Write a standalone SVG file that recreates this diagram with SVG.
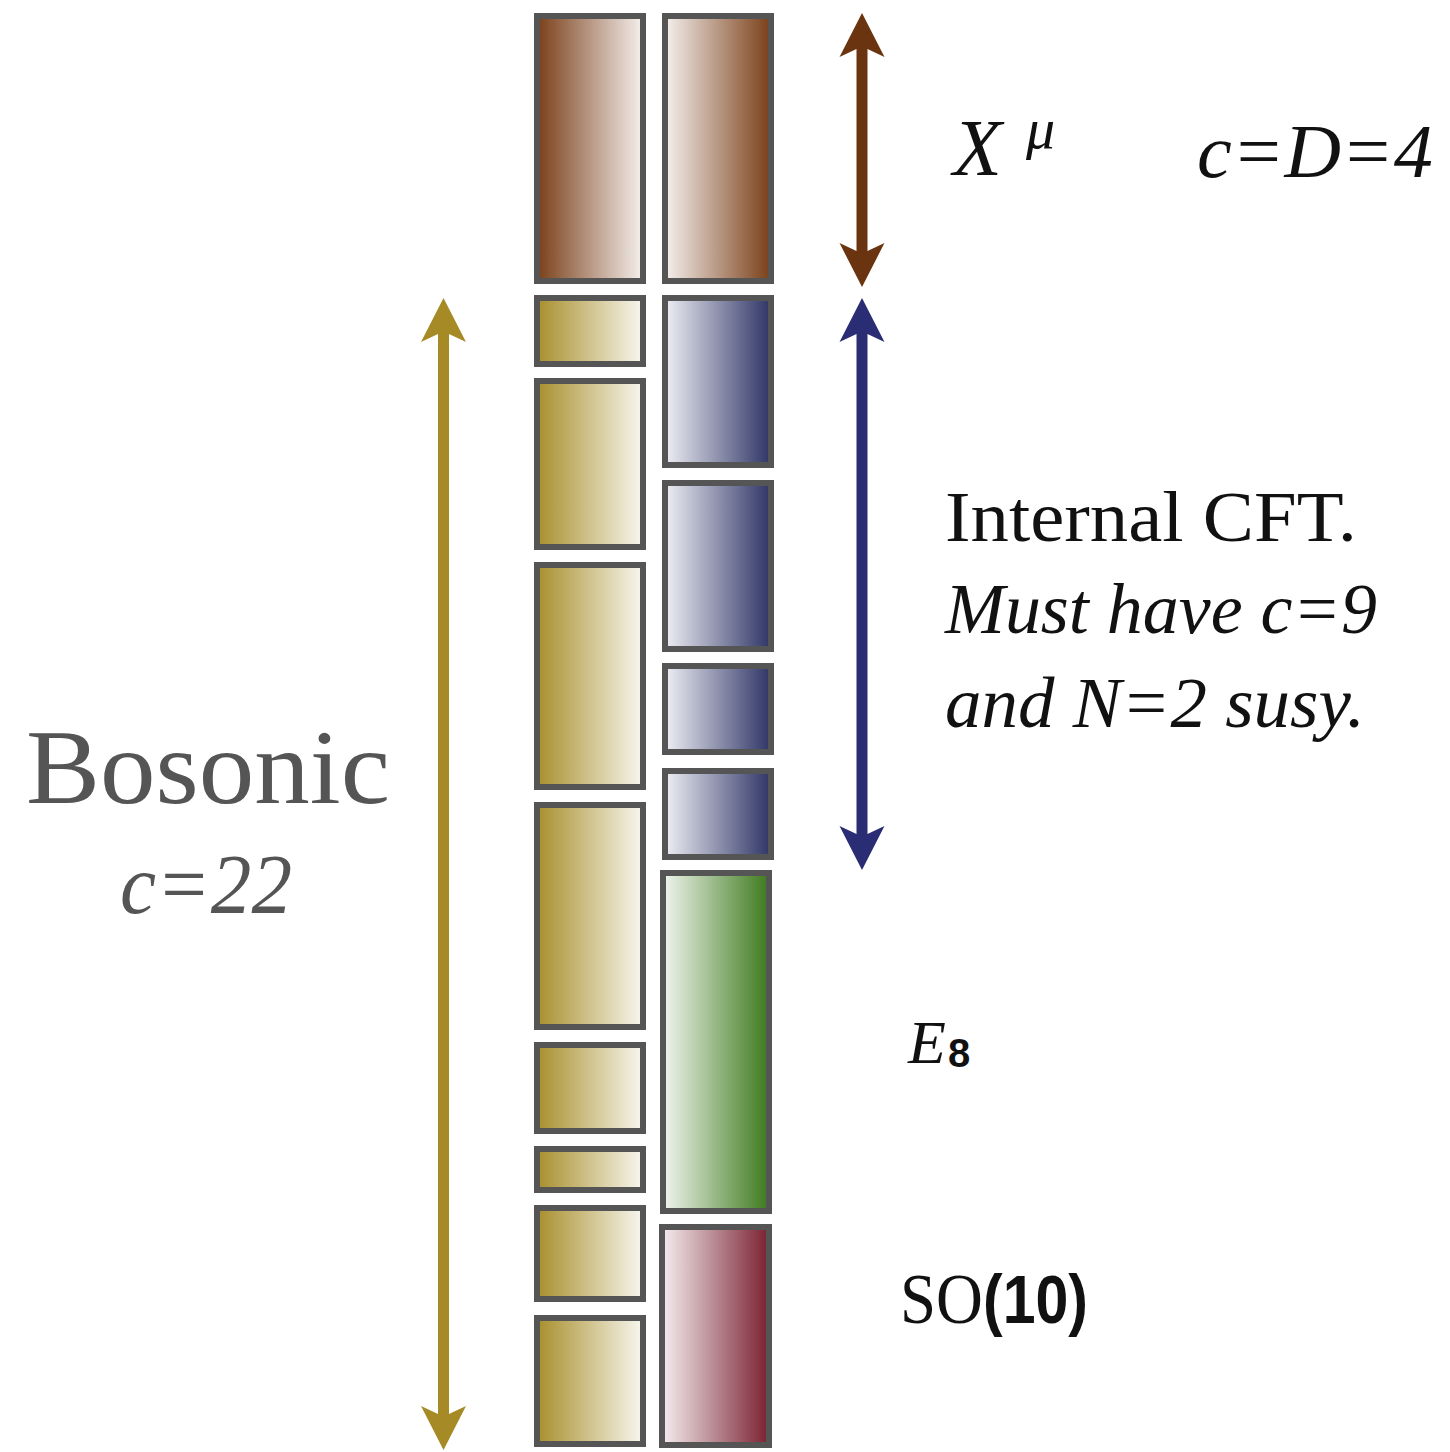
<svg xmlns="http://www.w3.org/2000/svg" width="1450" height="1452" viewBox="0 0 1450 1452">
<defs>
<linearGradient id="gBrownL" x1="0" y1="0" x2="1" y2="0"><stop offset="0" stop-color="#7a3f18"/><stop offset="1" stop-color="#f5f0ee"/></linearGradient>
<linearGradient id="gBrownR" x1="0" y1="0" x2="1" y2="0"><stop offset="0" stop-color="#f5f0ee"/><stop offset="1" stop-color="#7a3f18"/></linearGradient>
<linearGradient id="gGold" x1="0" y1="0" x2="1" y2="0"><stop offset="0" stop-color="#a88f2c"/><stop offset="1" stop-color="#f8f7f0"/></linearGradient>
<linearGradient id="gBlue" x1="0" y1="0" x2="1" y2="0"><stop offset="0" stop-color="#eeeff4"/><stop offset="1" stop-color="#2e3466"/></linearGradient>
<linearGradient id="gGreen" x1="0" y1="0" x2="1" y2="0"><stop offset="0" stop-color="#f1f5ee"/><stop offset="1" stop-color="#3d7a1d"/></linearGradient>
<linearGradient id="gRed" x1="0" y1="0" x2="1" y2="0"><stop offset="0" stop-color="#f5eef0"/><stop offset="1" stop-color="#7a2030"/></linearGradient>
<marker id="mBrown" viewBox="0 -23 44 46" markerUnits="userSpaceOnUse" markerWidth="44" markerHeight="46" refX="8" refY="0" orient="auto-start-reverse"><path d="M0,-22.5 L44,0 L0,22.5 L8,5.5 L8,-5.5 Z" fill="#6b3410"/></marker>
<marker id="mBlue" viewBox="0 -23 44 46" markerUnits="userSpaceOnUse" markerWidth="44" markerHeight="46" refX="8" refY="0" orient="auto-start-reverse"><path d="M0,-22.5 L44,0 L0,22.5 L8,5.5 L8,-5.5 Z" fill="#2b2d74"/></marker>
<marker id="mGold" viewBox="0 -23 44 46" markerUnits="userSpaceOnUse" markerWidth="44" markerHeight="46" refX="8" refY="0" orient="auto-start-reverse"><path d="M0,-22.5 L44,0 L0,22.5 L8,5.5 L8,-5.5 Z" fill="#a68a25"/></marker>
</defs>
<style>
.box{stroke:#555555;stroke-width:6}
.serif{font-family:"Liberation Serif","DejaVu Serif",serif;fill:#111}
.it{font-style:italic}
.sans{font-family:"Liberation Sans","DejaVu Sans",sans-serif;font-weight:bold;fill:#111}
.gray{fill:#555555}
</style>
<g id="left-column">
<rect id="l1" class="box" x="537" y="16" width="106" height="265" fill="url(#gBrownL)"/>
<rect id="l2" class="box" x="537" y="298" width="106" height="66" fill="url(#gGold)"/>
<rect id="l3" class="box" x="537" y="381" width="106" height="166" fill="url(#gGold)"/>
<rect id="l4" class="box" x="537" y="565" width="106" height="222" fill="url(#gGold)"/>
<rect id="l5" class="box" x="537" y="805" width="106" height="222" fill="url(#gGold)"/>
<rect id="l6" class="box" x="537" y="1045" width="106" height="86" fill="url(#gGold)"/>
<rect id="l7" class="box" x="537" y="1149" width="106" height="41" fill="url(#gGold)"/>
<rect id="l8" class="box" x="537" y="1208" width="106" height="91" fill="url(#gGold)"/>
<rect id="l9" class="box" x="537" y="1318" width="106" height="126" fill="url(#gGold)"/>
</g>
<g id="right-column">
<rect id="r1" class="box" x="665" y="16" width="106" height="265" fill="url(#gBrownR)"/>
<rect id="r2" class="box" x="665" y="298" width="106" height="167" fill="url(#gBlue)"/>
<rect id="r3" class="box" x="665" y="483" width="106" height="166" fill="url(#gBlue)"/>
<rect id="r4" class="box" x="665" y="666" width="106" height="86" fill="url(#gBlue)"/>
<rect id="r5" class="box" x="665" y="771" width="106" height="86" fill="url(#gBlue)"/>
<rect id="r6" class="box" x="663" y="873" width="106" height="338" fill="url(#gGreen)"/>
<rect id="r7" class="box" x="662" y="1227" width="107" height="218" fill="url(#gRed)"/>
</g>
<g id="connectors">
<line x1="862" y1="49" x2="862" y2="251" stroke="#6b3410" stroke-width="11" marker-start="url(#mBrown)" marker-end="url(#mBrown)"/>
<line x1="862" y1="334" x2="862" y2="834" stroke="#2b2d74" stroke-width="11" marker-start="url(#mBlue)" marker-end="url(#mBlue)"/>
<line x1="443.5" y1="334" x2="443.5" y2="1414" stroke="#a68a25" stroke-width="11" marker-start="url(#mGold)" marker-end="url(#mGold)"/>
</g>
<g id="label-xmu">
<text class="serif it" x="953" y="175" font-size="80">X</text>
<text class="serif it" x="1026" y="148" font-size="58">μ</text>
</g>
<g id="label-cD4">
<text class="serif it" x="1197" y="177" font-size="76" textLength="236" lengthAdjust="spacingAndGlyphs">c=D=4</text>
</g>
<g id="label-internal">
<text class="serif" x="945" y="541" font-size="72" textLength="412" lengthAdjust="spacingAndGlyphs">Internal CFT.</text>
<text class="serif it" x="945" y="633" font-size="72" textLength="432" lengthAdjust="spacingAndGlyphs">Must have c=9</text>
<text class="serif it" x="945" y="727" font-size="72" textLength="420" lengthAdjust="spacingAndGlyphs">and N=2 susy.</text>
</g>
<g id="label-bosonic">
<text class="serif gray" x="26" y="803" font-size="106" textLength="364" lengthAdjust="spacingAndGlyphs">Bosonic</text>
<text class="serif it gray" x="120" y="913" font-size="84" textLength="172" lengthAdjust="spacingAndGlyphs">c=22</text>
</g>
<g id="label-e8">
<text class="serif it" x="908" y="1063" font-size="62">E</text>
<text class="sans" x="948" y="1067" font-size="40">8</text>
</g>
<g id="label-so10">
<text class="serif" x="900" y="1323" font-size="72" textLength="83" lengthAdjust="spacingAndGlyphs">SO</text>
<text class="sans" x="983" y="1323" font-size="68" textLength="105" lengthAdjust="spacingAndGlyphs">(10)</text>
</g>
</svg>
